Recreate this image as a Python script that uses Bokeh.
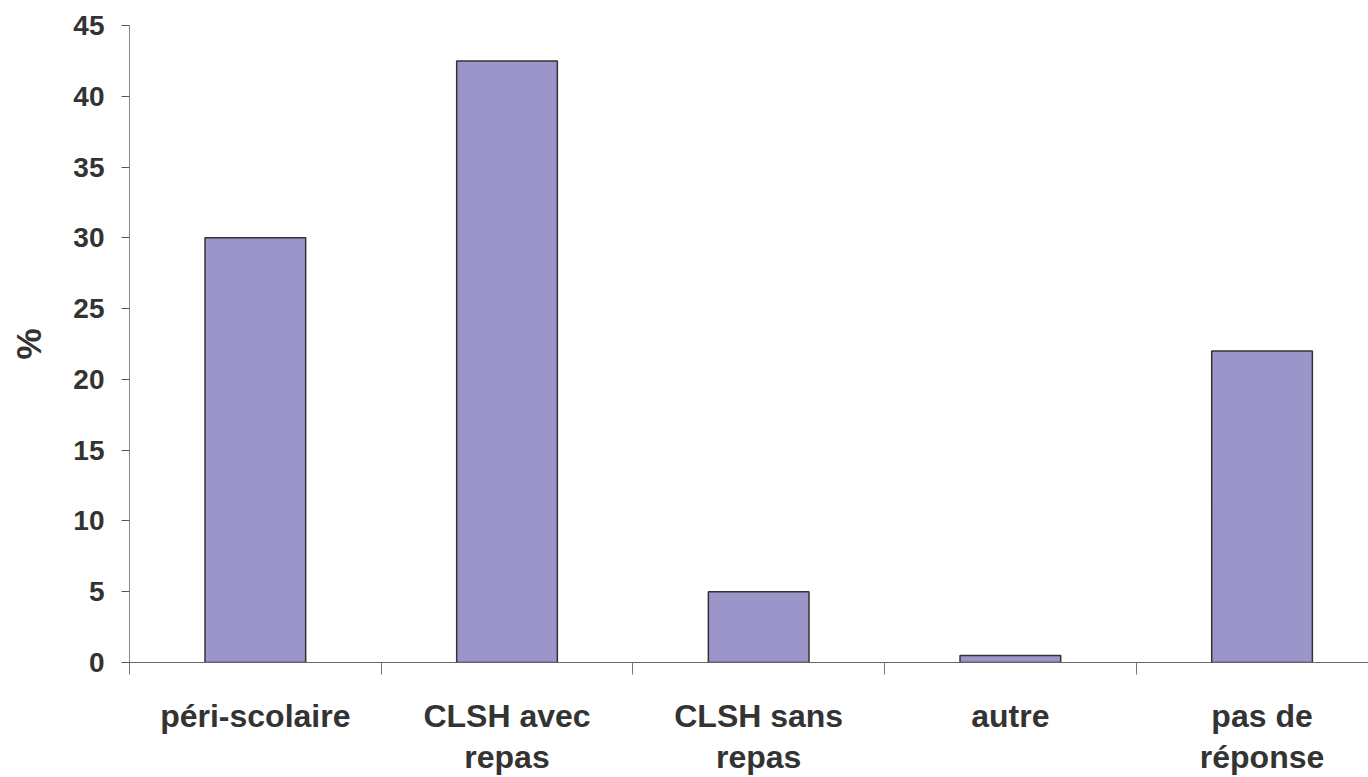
from bokeh.plotting import figure
from bokeh.models import Range1d, FixedTicker, ColumnDataSource
from bokeh.embed import file_html
from bokeh.resources import INLINE

categories = ["péri-scolaire", "CLSH avec\nrepas", "CLSH sans\nrepas", "autre", "pas de\nréponse"]
values = [30, 42.5, 5, 0.5, 22]
y_ticks = [0, 5, 10, 15, 20, 25, 30, 35, 40, 45]

FONT = "Liberation Sans"
TXT = "#333333"

centers = [i + 0.5 for i in range(len(categories))]
src = ColumnDataSource(dict(x=centers, top=values))

p = figure(width=1368, height=777, output_backend="svg", toolbar_location=None,
           x_range=Range1d(0, 4.923), y_range=Range1d(0, 45),
           min_border_left=129, min_border_right=0, min_border_top=25, min_border_bottom=113)
p.outline_line_color = None
p.xgrid.grid_line_color = None
p.ygrid.grid_line_color = None
p.background_fill_color = "white"
p.border_fill_color = "white"

p.vbar(x="x", top="top", width=0.4, bottom=0, source=src,
       fill_color="#9B95C9", line_color="#333333", line_width=1.5)

# y axis
ya = p.yaxis[0]
ya.ticker = FixedTicker(ticks=y_ticks, minor_ticks=[])
ya.axis_line_color = "#888888"
ya.major_tick_line_color = "#555555"
ya.major_tick_out = 8
ya.major_tick_in = 0
ya.minor_tick_line_color = None
ya.major_label_text_font = FONT
ya.major_label_text_font_style = "bold"
ya.major_label_text_font_size = "28px"
ya.major_label_text_color = TXT
ya.major_label_standoff = 17
ya.axis_label = "%"
ya.axis_label_text_font = FONT
ya.axis_label_text_font_style = "bold"
ya.axis_label_text_font_size = "35px"
ya.axis_label_text_color = TXT
ya.axis_label_standoff = 22

# x axis
xa = p.xaxis[0]
xa.ticker = FixedTicker(ticks=centers, minor_ticks=list(range(len(categories) + 1)))
xa.major_label_overrides = {c: lab for c, lab in zip(centers, categories)}
xa.axis_line_color = "#666666"
xa.major_tick_line_color = None
xa.major_tick_out = 0
xa.major_tick_in = 0
xa.minor_tick_line_color = "#777777"
xa.minor_tick_out = 12
xa.minor_tick_in = 0
xa.major_label_text_font = FONT
xa.major_label_text_font_style = "bold"
xa.major_label_text_font_size = "32px"
xa.major_label_text_line_height = 1.15
xa.major_label_text_color = TXT
xa.major_label_standoff = 23

open("out.html", "w").write(file_html(p, INLINE))
